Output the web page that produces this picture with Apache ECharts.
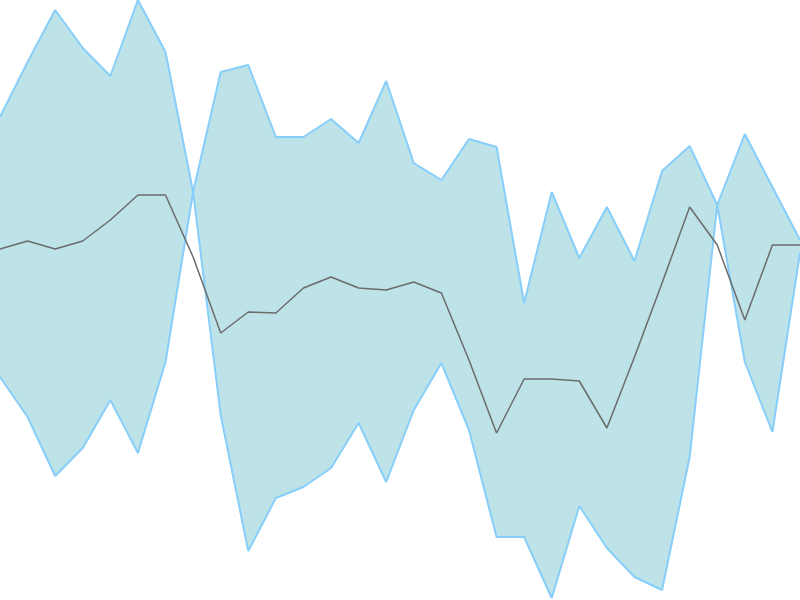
<!DOCTYPE html>
<html>
<head>
<meta charset="utf-8">
<script src="https://cdn.jsdelivr.net/npm/echarts@6/dist/echarts.min.js"></script>
<style>html,body{margin:0;padding:0;background:#fff;}#c{width:800px;height:600px;}</style>
</head>
<body>
<div id="c"></div>
<script>
const categories = Array.from({length: 30}, (_, i) => String(i + 1));
const upper  = [117,62,10,48,76,0,52,192,72,65,137,137,119,143,81,163,180,139,147,303,192,258,207,261,171,146,205,134,187,240];
const lower  = [377,417,476,448,400,453,362,192,415,551,498,487,468,423,482,410,363,430,537,537,598,506,548,577,590,457,205,362,432,253];
const middle = [249,241,249,241,220,195,195,257,333,312,313,288,277,288,290,282,293,360,433,379,379,381,428,357,283,207,245,320,245,245];

const band = lower.map((v, i) => v - upper[i]);
const chart = echarts.init(document.getElementById('c'));
chart.setOption({
  animation: false,
  grid: {left: 0, right: 0, top: 0, bottom: 0},
  xAxis: {type: 'category', data: categories, boundaryGap: false, show: false},
  yAxis: {type: 'value', min: 0, max: 600, inverse: true, show: false},
  series: [
    {type: 'line', data: upper, stack: 'b', symbol: 'none', clip: false,
     lineStyle: {color: '#87cefa', width: 2}},
    {type: 'line', data: band, stack: 'b', symbol: 'none', clip: false,
     lineStyle: {color: '#87cefa', width: 2},
     areaStyle: {color: '#bde3e8', opacity: 1}},
    {type: 'line', data: middle, symbol: 'none',
     lineStyle: {color: '#6b6b6b', width: 1.5}}
  ]
});
</script>
</body>
</html>
